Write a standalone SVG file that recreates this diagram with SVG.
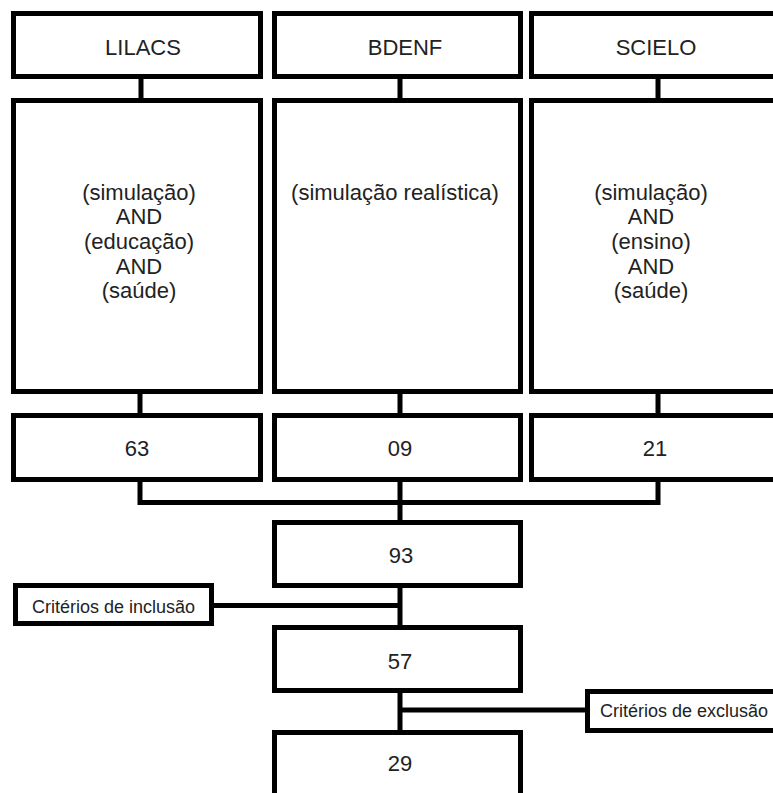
<svg xmlns="http://www.w3.org/2000/svg" width="773" height="793" viewBox="0 0 773 793">
<style>
.box{fill:#fff;stroke:#000;stroke-width:5}
.ln{fill:none;stroke:#000;stroke-width:5}
.t{font-family:"Liberation Sans",Arial,sans-serif;font-size:22px;fill:#222;text-anchor:middle}
.s{font-family:"Liberation Sans",Arial,sans-serif;font-size:18px;fill:#222}
</style>
<rect width="773" height="793" fill="#fff"/>
<g id="connectors">
<line class="ln" x1="141" y1="78" x2="141" y2="100"/>
<line class="ln" x1="400" y1="78" x2="400" y2="100"/>
<line class="ln" x1="658" y1="78" x2="658" y2="100"/>
<line class="ln" x1="140" y1="393" x2="140" y2="415"/>
<line class="ln" x1="400" y1="393" x2="400" y2="415"/>
<line class="ln" x1="658" y1="393" x2="658" y2="415"/>
<polyline class="ln" points="140,481 140,502.5 658,502.5 658,481"/>
<line class="ln" x1="400" y1="481" x2="400" y2="522"/>
<line class="ln" x1="400" y1="587" x2="400" y2="627"/>
<line class="ln" x1="213" y1="605.5" x2="400" y2="605.5"/>
<line class="ln" x1="400" y1="692" x2="400" y2="732"/>
<line class="ln" x1="400" y1="710" x2="587" y2="710"/>
</g>
<g id="lilacs"><rect class="box" x="13.5" y="13.5" width="247" height="63"/><text class="t" x="143" y="55">LILACS</text></g>
<g id="bdenf"><rect class="box" x="274.5" y="13.5" width="246" height="63"/><text class="t" x="405" y="55">BDENF</text></g>
<g id="scielo"><rect class="box" x="531.5" y="13.5" width="250" height="63"/><text class="t" x="656" y="55">SCIELO</text></g>
<g id="q-lilacs"><rect class="box" x="13.5" y="100.5" width="247" height="291"/>
<text class="t" x="139" y="199.5">(simulação)</text>
<text class="t" x="139" y="224">AND</text>
<text class="t" x="139" y="248.5">(educação)</text>
<text class="t" x="139" y="273.5">AND</text>
<text class="t" x="139" y="298">(saúde)</text></g>
<g id="q-bdenf"><rect class="box" x="274.5" y="100.5" width="246" height="291"/>
<text class="t" x="395" y="199.5">(simulação realística)</text></g>
<g id="q-scielo"><rect class="box" x="531.5" y="100.5" width="250" height="291"/>
<text class="t" x="651" y="199.5">(simulação)</text>
<text class="t" x="651" y="224">AND</text>
<text class="t" x="651" y="248.5">(ensino)</text>
<text class="t" x="651" y="273.5">AND</text>
<text class="t" x="651" y="298">(saúde)</text></g>
<g id="n63"><rect class="box" x="13.5" y="415.5" width="247" height="64"/><text class="t" x="137" y="456">63</text></g>
<g id="n09"><rect class="box" x="274.5" y="415.5" width="246" height="64"/><text class="t" x="400" y="456">09</text></g>
<g id="n21"><rect class="box" x="531.5" y="415.5" width="250" height="64"/><text class="t" x="655" y="456">21</text></g>
<g id="n93"><rect class="box" x="274.5" y="522.5" width="246" height="63"/><text class="t" x="401" y="563">93</text></g>
<g id="inclusao"><rect class="box" x="15.5" y="585.5" width="196" height="38"/><text class="s" x="32" y="613">Critérios de inclusão</text></g>
<g id="n57"><rect class="box" x="274.5" y="627.5" width="246" height="63"/><text class="t" x="400" y="669">57</text></g>
<g id="exclusao"><rect class="box" x="587.5" y="691.5" width="200" height="39"/><text class="s" x="600" y="717">Critérios de exclusão</text></g>
<g id="n29"><rect class="box" x="274.5" y="732.5" width="246" height="70"/><text class="t" x="400" y="771">29</text></g>
</svg>
